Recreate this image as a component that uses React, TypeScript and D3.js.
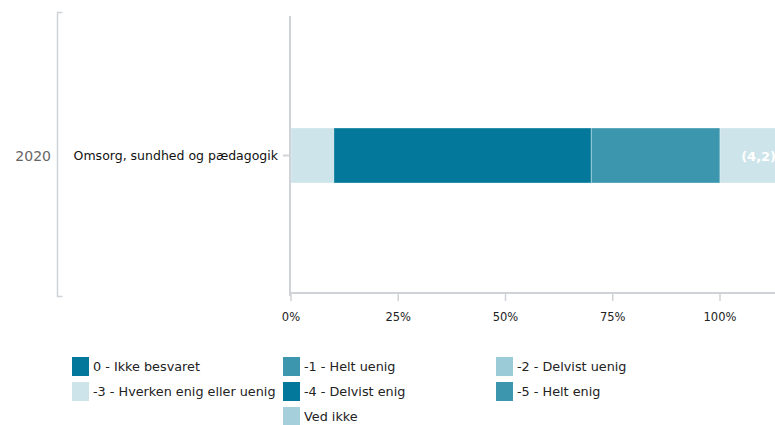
import React from "react";
import * as d3 from "d3";

const groupLabel = "2020";
const categories = ["Omsorg, sundhed og pædagogik"];
const seriesNames = [
  "0 - Ikke besvaret",
  "-1 - Helt uenig",
  "-2 - Delvist uenig",
  "-3 - Hverken enig eller uenig",
  "-4 - Delvist enig",
  "-5 - Helt enig",
  "Ved ikke",
];
const seriesColors = ["#03789a", "#3c97ae", "#9ccbd8", "#cde4ea", "#03789a", "#3c97ae", "#a4cfdb"];
// values per series for the single category (percent)
const seriesValues = [0, 0, 0, 10, 60, 30, 0];
const meanLabel = "(4,2)";
const meanBarExtent = 18; // percent beyond 100 used for the mean label cell
const xTicks = [0, 25, 50, 75, 100];

const W = 775;
const H = 425;
const font = "'DejaVu Sans', sans-serif";

export default function App() {
  const x = d3.scaleLinear().domain([0, 100]).range([291, 720]);
  const y = d3.scaleBand().domain(categories).range([17, 294]).padding(0.6686);
  const axisColor = "#cfd2d6";

  let cum = 0;
  const segs = seriesValues.map((v, i) => {
    const s = { i, x0: cum, x1: cum + v };
    cum += v;
    return s;
  }).filter((s) => s.x1 > s.x0);

  const bandY = y(categories[0])!;
  const bh = y.bandwidth();

  const legendCols = [72, 283, 496];
  const legendRows = [357, 382, 407];

  return (
    <svg width={W} height={H} style={{ position: "absolute", left: 0, top: 0, fontFamily: font }}>
      <rect width={W} height={H} fill="#fff" />
      {/* group bracket */}
      <path d="M62.5,12.5 H57.5 V296.5 H62.5" fill="none" stroke={axisColor} strokeWidth={1.5} />
      <text x={51} y={161} textAnchor="end" fontSize={14} fill="#666">{groupLabel}</text>

      {/* bars */}
      {segs.map((s) => (
        <rect key={s.i} x={x(s.x0)} y={bandY} width={x(s.x1) - x(s.x0)} height={bh}
          fill={seriesColors[s.i]} stroke="#ffffff" strokeOpacity={0.35} strokeWidth={1} />
      ))}
      <rect x={x(100)} y={bandY} width={x(100 + meanBarExtent) - x(100)} height={bh}
        fill="#cde4ea" stroke="#ffffff" strokeOpacity={0.35} />
      <text x={(x(100) + x(100 + meanBarExtent)) / 2} y={bandY + bh / 2 + 5} textAnchor="middle"
        fontSize={13} fontWeight="bold" fill="#ffffff">{meanLabel}</text>

      {/* axes */}
      <line x1={290} x2={290} y1={16} y2={296} stroke={axisColor} strokeWidth={2} />
      <line x1={290} x2={W} y1={293} y2={293} stroke={axisColor} strokeWidth={2} />
      {categories.map((c) => {
        const cy = y(c)! + bh / 2;
        return (
          <g key={c}>
            <line x1={283} x2={290} y1={cy} y2={cy} stroke={axisColor} strokeWidth={2} />
            <text x={278} y={cy + 4} textAnchor="end" fontSize={12.5} fill="#111">{c}</text>
          </g>
        );
      })}
      {xTicks.map((t) => (
        <g key={t}>
          <line x1={x(t)} x2={x(t)} y1={293} y2={301} stroke={axisColor} strokeWidth={1.5} />
          <text x={x(t)} y={321} textAnchor="middle" fontSize={11.5} fill="#222">{t}%</text>
        </g>
      ))}

      {/* legend */}
      {seriesNames.map((n, i) => {
        const col = i % 3;
        const row = Math.floor(i / 3);
        const lx = i === 6 ? legendCols[1] : legendCols[col];
        const ly = legendRows[row];
        return (
          <g key={n}>
            <rect x={lx} y={ly} width={17} height={19} fill={seriesColors[i]} />
            <text x={lx + 21} y={ly + 14} fontSize={12.8} fill="#222">{n}</text>
          </g>
        );
      })}
    </svg>
  );
}
